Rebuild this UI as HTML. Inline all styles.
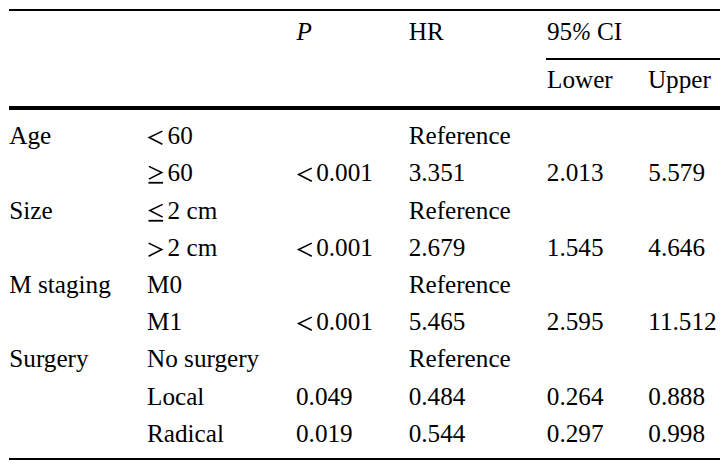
<!DOCTYPE html>
<html><head><meta charset="utf-8"><style>
html,body{margin:0;padding:0;background:#fff;}
body{width:727px;height:466px;position:relative;overflow:hidden;font-family:"Liberation Serif",serif;font-size:25.2px;color:#000;}
.t{position:absolute;white-space:nowrap;line-height:25.2px;}
.l{position:absolute;background:#000;}
svg{position:absolute;left:0;top:0;}
</style></head><body>
<div class="l" style="left:9px;top:9px;width:711px;height:2px"></div>
<div class="l" style="left:546px;top:58px;width:174px;height:2px"></div>
<div class="l" style="left:9px;top:106px;width:711px;height:4px"></div>
<div class="l" style="left:9px;top:458px;width:711px;height:2px"></div>
<div class="t" style="left:296.40px;top:18.90px"><i>P</i></div>
<div class="t" style="left:408.70px;top:18.90px">HR</div>
<div class="t" style="left:547.00px;top:18.90px">95</div>
<div class="t" style="left:572.20px;top:18.90px"><i style="display:inline-block;transform:scaleX(0.9);transform-origin:0 0">%</i></div>
<div class="t" style="left:597.00px;top:18.90px">CI</div>
<div class="t" style="left:547.00px;top:66.90px">Lower</div>
<div class="t" style="left:647.90px;top:66.90px">Upper</div>
<div class="t" style="left:9.30px;top:122.90px">Age</div>
<div class="t" style="left:167.60px;top:122.90px">60</div>
<div class="t" style="left:408.70px;top:122.90px">Reference</div>
<div class="t" style="left:167.60px;top:159.90px">60</div>
<div class="t" style="left:316.20px;top:159.90px">0.001</div>
<div class="t" style="left:408.70px;top:159.90px">3.351</div>
<div class="t" style="left:546.80px;top:159.90px">2.013</div>
<div class="t" style="left:648.30px;top:159.90px">5.579</div>
<div class="t" style="left:9.30px;top:197.90px">Size</div>
<div class="t" style="left:167.60px;top:197.90px">2 cm</div>
<div class="t" style="left:408.70px;top:197.90px">Reference</div>
<div class="t" style="left:167.60px;top:234.90px">2 cm</div>
<div class="t" style="left:316.20px;top:234.90px">0.001</div>
<div class="t" style="left:408.70px;top:234.90px">2.679</div>
<div class="t" style="left:546.80px;top:234.90px">1.545</div>
<div class="t" style="left:648.30px;top:234.90px">4.646</div>
<div class="t" style="left:9.30px;top:271.89px">M staging</div>
<div class="t" style="left:147.00px;top:271.89px">M0</div>
<div class="t" style="left:408.70px;top:271.89px">Reference</div>
<div class="t" style="left:147.00px;top:308.89px">M1</div>
<div class="t" style="left:316.20px;top:308.89px">0.001</div>
<div class="t" style="left:408.70px;top:308.89px">5.465</div>
<div class="t" style="left:546.80px;top:308.89px">2.595</div>
<div class="t" style="left:648.30px;top:308.89px">11.512</div>
<div class="t" style="left:9.30px;top:345.89px">Surgery</div>
<div class="t" style="left:147.00px;top:345.89px">No surgery</div>
<div class="t" style="left:408.70px;top:345.89px">Reference</div>
<div class="t" style="left:147.00px;top:383.89px">Local</div>
<div class="t" style="left:296.00px;top:383.89px">0.049</div>
<div class="t" style="left:408.70px;top:383.89px">0.484</div>
<div class="t" style="left:546.80px;top:383.89px">0.264</div>
<div class="t" style="left:648.30px;top:383.89px">0.888</div>
<div class="t" style="left:147.00px;top:420.89px">Radical</div>
<div class="t" style="left:296.00px;top:420.89px">0.019</div>
<div class="t" style="left:408.70px;top:420.89px">0.544</div>
<div class="t" style="left:546.80px;top:420.89px">0.297</div>
<div class="t" style="left:648.30px;top:420.89px">0.998</div>
<svg width="727" height="466" viewBox="0 0 727 466" fill="none" stroke="#000" stroke-width="1.55" stroke-linejoin="miter" stroke-miterlimit="10">
<path d="M162.40 131.15L149.20 137.45L162.40 144.25"/>
<path d="M148.90 166.40L161.80 172.55L148.90 179.10"/>
<rect x="148.50" y="181.85" width="14.5" height="1.8" fill="#000" stroke="none"/>
<path d="M162.70 204.40L149.80 210.55L162.70 217.10"/>
<rect x="148.50" y="219.85" width="14.5" height="1.8" fill="#000" stroke="none"/>
<path d="M148.60 243.15L161.80 249.45L148.60 256.25"/>
<path d="M311.80 168.15L298.60 174.45L311.80 181.25"/>
<path d="M311.80 243.15L298.60 249.45L311.80 256.25"/>
<path d="M311.80 317.15L298.60 323.45L311.80 330.25"/>
</svg>
</body></html>
